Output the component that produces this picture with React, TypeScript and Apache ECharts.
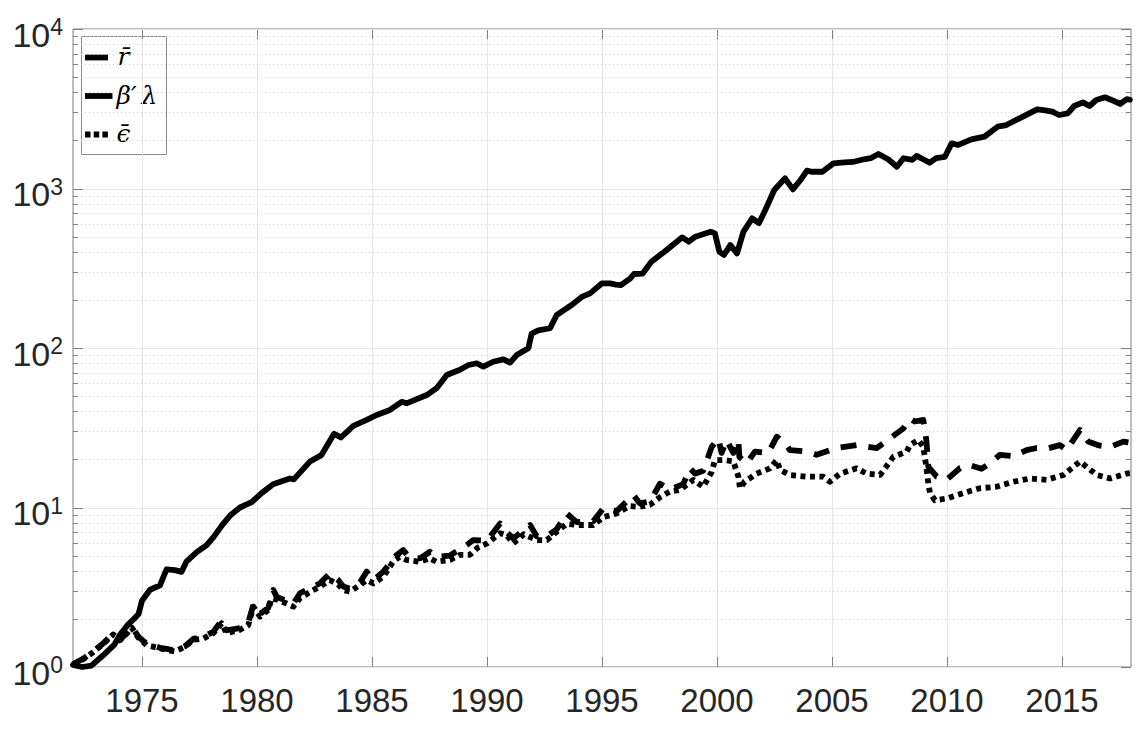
import React, { useEffect, useRef } from 'react';
import * as echarts from 'echarts';

const X_MIN = 1972;
const X_MAX = 2018;
const xTickYears = [1975, 1980, 1985, 1990, 1995, 2000, 2005, 2010, 2015];
const yMajorTicks = [1, 10, 100, 1000, 10000];
const yMinorTicks = [
  2, 3, 4, 5, 6, 7, 8, 9,
  20, 30, 40, 50, 60, 70, 80, 90,
  200, 300, 400, 500, 600, 700, 800, 900,
  2000, 3000, 4000, 5000, 6000, 7000, 8000, 9000,
];

// beta' lambda (solid)
const betaYears = [
  1972.0, 1972.4, 1972.8, 1973.3, 1973.8, 1974.05, 1974.4, 1974.65, 1974.85, 1975.0,
  1975.35, 1975.78, 1976.07, 1976.43, 1976.72, 1976.94, 1977.38, 1977.81, 1978.1, 1978.53,
  1978.83, 1979.26, 1979.77, 1980.2, 1980.7, 1981.43, 1981.6, 1982.3, 1982.8, 1983.35,
  1983.65, 1984.19, 1984.77, 1985.2, 1985.78, 1986.29, 1986.5, 1987.38, 1987.81, 1988.25,
  1988.8, 1989.2, 1989.55, 1989.84, 1990.27, 1990.71, 1991.0, 1991.29, 1991.8, 1991.94,
  1992.23, 1992.74, 1993.03, 1993.25, 1993.68, 1994.12, 1994.48, 1994.99, 1995.35, 1995.6,
  1995.82, 1996.22, 1996.39, 1996.77, 1997.15, 1997.72, 1998.49, 1998.77, 1999.06, 1999.72,
  1999.91, 2000.1, 2000.3, 2000.58, 2000.87, 2001.15, 2001.53, 2001.82, 2002.1, 2002.49,
  2002.96, 2003.3, 2003.63, 2003.91, 2004.1, 2004.58, 2005.06, 2005.53, 2005.91, 2006.39,
  2006.68, 2007.02, 2007.44, 2007.82, 2008.11, 2008.49, 2008.68, 2008.96, 2009.25, 2009.53,
  2009.91, 2010.2, 2010.49, 2011.06, 2011.63, 2012.2, 2012.58, 2013.15, 2013.92, 2014.2,
  2014.58, 2014.87, 2015.25, 2015.53, 2015.91, 2016.2, 2016.49, 2016.87, 2017.15, 2017.53,
  2017.82, 2017.95,
];
const betaValues = [
  1.03, 1.0, 1.02, 1.18, 1.38, 1.6, 1.85, 2.0, 2.15, 2.6,
  3.05, 3.25, 4.1, 4.05, 3.95, 4.6, 5.25, 5.8, 6.5, 7.9,
  8.9, 10.0, 10.8, 12.3, 14.0, 15.2, 15.0, 19.4, 21.3, 29,
  27.5, 32.5, 35.4, 38, 40.9, 46, 45, 50.7, 56, 67.7,
  72.8, 78.2, 80.2, 76.4, 82, 84.9, 81, 90.3, 99.8, 123,
  128.8, 133, 161, 169, 186, 209, 220, 254, 254, 250,
  248, 272, 291, 293, 348, 402, 494, 464, 499, 536,
  523, 402, 383, 442, 392, 536, 650, 606, 733, 979,
  1158, 988, 1130, 1294, 1274, 1274, 1438, 1458, 1467, 1525,
  1548, 1645, 1525, 1370, 1548, 1510, 1600, 1525, 1451, 1548,
  1580, 1919, 1875, 2034, 2114, 2440, 2500, 2754, 3135, 3100,
  3030, 2890, 2960, 3290, 3467, 3290, 3589, 3731, 3589, 3389,
  3631, 3600,
];

// r bar (dashed)
const rbarYears = [
  1972.0, 1972.45, 1972.88, 1973.32, 1973.75, 1974.04, 1974.33, 1974.55, 1974.84, 1975.2,
  1975.78, 1976.07, 1976.43, 1976.87, 1977.23, 1977.67, 1978.1, 1978.46, 1978.68, 1979.26,
  1979.62, 1979.84, 1980.13, 1980.49, 1980.71, 1980.86, 1981.29, 1981.58, 1981.87, 1982.3,
  1982.74, 1983.17, 1983.53, 1983.75, 1984.04, 1984.48, 1984.77, 1985.06, 1985.49, 1986.07,
  1986.36, 1986.6, 1987.09, 1987.52, 1987.81, 1988.39, 1989.12, 1989.4, 1990.0, 1990.57,
  1990.86, 1991.14, 1991.87, 1992.16, 1992.6, 1993.03, 1993.46, 1993.9, 1994.62, 1995.06,
  1995.64, 1996.36, 1996.65, 1997.09, 1997.52, 1997.96, 1998.53, 1998.83, 1999.04, 1999.4,
  1999.77, 2000.06, 2000.2, 2000.42, 2000.71, 2000.93, 2000.97, 2001.29, 2001.65, 2002.23,
  2002.6, 2002.96, 2003.17, 2003.9, 2004.33, 2005.2, 2006.07, 2006.94, 2007.52, 2008.1,
  2008.39, 2008.6, 2008.97, 2009.1, 2009.19, 2009.55, 2010.0, 2010.57, 2011.0, 2011.5,
  2011.87, 2012.3, 2012.9, 2013.46, 2013.9, 2014.4, 2014.91, 2015.2, 2015.78, 2016.14,
  2016.6, 2017.09, 2017.67, 2017.95,
];
const rbarValues = [
  1.04, 1.13, 1.25, 1.41, 1.63, 1.48, 1.63, 1.79, 1.55, 1.4,
  1.32, 1.3, 1.27, 1.35, 1.5, 1.55, 1.66, 1.95, 1.7, 1.75,
  1.9, 2.45, 2.15, 2.35, 3.04, 2.75, 2.6, 2.5, 2.9, 3.11,
  3.35, 3.87, 3.51, 3.2, 3.1, 3.4, 3.96, 3.5, 3.96, 5.04,
  5.41, 4.9, 4.8, 5.28, 4.9, 5.0, 5.82, 6.25, 6.2, 7.94,
  7.0, 6.4, 7.77, 6.6, 6.6, 7.3, 9.18, 8.1, 8.2, 9.9,
  9.5, 11.98, 10.6, 10.9, 14.1, 13.0, 14.0, 17.6, 16.3, 17,
  24.0, 27.1, 22.0, 26.5, 22.0, 26.5, 20.8, 18.9, 22.4, 22.0,
  27.8, 25.3, 22.9, 22.4, 21.4, 23.6, 24.6, 23.6, 27.1, 31.3,
  36.1, 34.6, 35.4, 26.5, 18, 15.6, 15.0, 17.7, 18.4, 17.5,
  18.9, 21.4, 21.0, 22.9, 23.6, 23.5, 24.6, 22.9, 30.6, 25.9,
  24.5, 24.0, 25.9, 25.5,
];

// epsilon bar (dotted)
const epsYears = [
  1972.0, 1972.45, 1972.88, 1973.32, 1973.75, 1974.04, 1974.33, 1974.55, 1974.84, 1975.2,
  1975.78, 1976.07, 1976.43, 1976.87, 1977.23, 1977.67, 1978.1, 1978.46, 1978.68, 1979.26,
  1979.62, 1979.84, 1980.13, 1980.49, 1980.64, 1980.86, 1981.29, 1981.58, 1981.87, 1982.3,
  1982.74, 1983.17, 1983.53, 1983.75, 1984.04, 1984.48, 1984.77, 1985.06, 1985.49, 1985.93,
  1986.2, 1986.5, 1987.09, 1987.5, 1987.81, 1988.39, 1988.83, 1989.25, 1989.6, 1990.0,
  1990.57, 1990.86, 1991.14, 1991.6, 1992.16, 1992.6, 1993.03, 1993.46, 1993.9, 1994.62,
  1995.06, 1995.64, 1996.2, 1996.65, 1997.09, 1997.52, 1997.96, 1998.39, 1998.97, 1999.4,
  1999.77, 1999.91, 2000.35, 2000.71, 2000.93, 2001.0, 2001.2, 2001.72, 2002.3, 2002.6,
  2002.74, 2003.17, 2003.9, 2004.62, 2004.91, 2005.35, 2006.07, 2006.51, 2007.09, 2007.67,
  2008.25, 2008.39, 2008.75, 2008.97, 2009.1, 2009.19, 2009.26, 2009.48, 2009.99, 2010.7,
  2011.43, 2012.16, 2012.88, 2013.61, 2014.33, 2015.06, 2015.78, 2016.51, 2017.09, 2017.8,
  2017.95,
];
const epsValues = [
  1.04, 1.12, 1.24, 1.4, 1.6, 1.47, 1.62, 1.77, 1.53, 1.37,
  1.31, 1.28, 1.25, 1.34, 1.48, 1.51, 1.63, 1.88, 1.63, 1.71,
  1.83, 2.39, 2.07, 2.28, 2.7, 2.65, 2.5, 2.39, 2.7, 2.95,
  3.2, 3.5, 3.3, 3.04, 2.97, 3.27, 3.5, 3.35, 3.68, 4.6,
  4.9, 4.69, 4.57, 4.8, 4.57, 4.69, 5.04, 5.04, 5.6, 5.96,
  6.9, 6.7, 5.96, 6.8, 6.25, 6.25, 7.05, 7.9, 7.77, 7.77,
  8.7, 9.18, 10.2, 10.1, 10.4, 11.6, 12.6, 12.9, 14.9, 13.5,
  16.7, 19.8, 19.8, 19.5, 15.6, 13.2, 14.5, 16.3, 17.6, 19.8,
  17.2, 16.0, 15.6, 15.6, 14.5, 16.3, 17.6, 16.3, 16.0, 20.8,
  22.4, 24.6, 26.5, 24.0, 18, 14.1, 12.3, 11.1, 11.4, 12.3,
  13.2, 13.5, 14.5, 15.2, 14.9, 16.0, 19.4, 16.0, 15.2, 16.3,
  16.4,
];

const legendLabels = ['r\u0304', '\u03B2\u2032\u2009\u03BB', '\u03F5\u0304'];

const FONT = '"Liberation Sans", Arial, Helvetica, sans-serif';
const LEGEND_FONT = 'italic 25px "DejaVu Serif", "Liberation Serif", serif';
const TEXT_COLOR = '#262626';
const AXIS_COLOR = '#7f7f7f';
const GRID_COLOR = '#e6e6e6';
const MINOR_GRID_COLOR = '#cfcfcf';
const LINE_W = 5.8;

const pairs = (xs: number[], ys: number[]) => xs.map((x, i) => [x, ys[i]]);
const crisp = (v: number) => Math.round(v) + 0.5;

export default function App() {
  const ref = useRef<HTMLDivElement>(null);

  useEffect(() => {
    document.body.style.margin = '0';
    if (!ref.current) return;
    const chart = echarts.init(ref.current, null, { renderer: 'svg' });

    const lineBase = {
      type: 'line',
      showSymbol: false,
      symbol: 'none',
      silent: true,
      z: 5,
      xAxisIndex: 0,
      yAxisIndex: 0,
    };

    chart.setOption({
      animation: false,
      backgroundColor: '#ffffff',
      grid: {
        left: 73,
        top: 29,
        width: 1058,
        height: 638,
        show: true,
        borderColor: AXIS_COLOR,
        borderWidth: 1,
        backgroundColor: 'transparent',
      },
      xAxis: {
        type: 'value',
        min: X_MIN,
        max: X_MAX,
        axisLine: { show: false },
        axisTick: { show: false },
        splitLine: { show: false },
        axisLabel: {
          customValues: xTickYears,
          fontSize: 33,
          lineHeight: 33,
          margin: 17,
          color: TEXT_COLOR,
          fontFamily: FONT,
          formatter: (v: number) => String(v),
        },
      },
      yAxis: {
        type: 'log',
        logBase: 10,
        min: 1,
        max: 10000,
        axisLine: { show: false },
        axisTick: { show: false },
        splitLine: { show: false },
        minorSplitLine: { show: false },
        axisLabel: {
          margin: 10,
          padding: [9, 0, 0, 0],
          formatter: (v: number) => `{b|10}{e|${Math.round(Math.log10(v))}}`,
          rich: {
            b: {
              fontSize: 34,
              fontFamily: FONT,
              color: TEXT_COLOR,
              lineHeight: 36,
              padding: [9, 0, 0, 0],
              verticalAlign: 'bottom',
            },
            e: {
              fontSize: 23,
              fontFamily: FONT,
              color: TEXT_COLOR,
              lineHeight: 22,
              verticalAlign: 'top',
            },
          },
        },
      },
      graphic: [
        {
          type: 'group',
          x: 81.5,
          y: 36.5,
          z: 100,
          children: [
            {
              type: 'rect',
              shape: { x: 0, y: 0, width: 85, height: 118 },
              style: { fill: '#ffffff', stroke: '#8c8c8c', lineWidth: 1 },
            },
            {
              type: 'line',
              shape: { x1: 3.5, y1: 21, x2: 26.5, y2: 21 },
              style: { stroke: '#000', lineWidth: LINE_W },
            },
            {
              type: 'line',
              shape: { x1: 3.5, y1: 59.5, x2: 31, y2: 59.5 },
              style: { stroke: '#000', lineWidth: LINE_W },
            },
            {
              type: 'line',
              shape: { x1: 3.5, y1: 98, x2: 26.5, y2: 98 },
              style: { stroke: '#000', lineWidth: LINE_W, lineDash: [5.5, 3.2], lineCap: 'butt' },
            },
            {
              type: 'text',
              x: 36,
              y: 20,
              style: { text: legendLabels[0], font: LEGEND_FONT, fill: '#000', verticalAlign: 'middle' },
            },
            {
              type: 'text',
              x: 35,
              y: 59,
              style: { text: legendLabels[1], font: LEGEND_FONT, fill: '#000', verticalAlign: 'middle' },
            },
            {
              type: 'text',
              x: 35,
              y: 97,
              style: { text: legendLabels[2], font: LEGEND_FONT, fill: '#000', verticalAlign: 'middle' },
            },
          ],
        },
      ],
      series: [
        {
          name: 'xgrid',
          type: 'custom',
          silent: true,
          z: 1,
          clip: false,
          encode: { x: 0, y: 1 },
          data: xTickYears.map((x) => [x, 1]),
          renderItem: (params: any, api: any) => {
            const cs = params.coordSys;
            const x = crisp(api.coord([api.value(0), api.value(1)])[0]);
            const top = cs.y;
            const bottom = cs.y + cs.height;
            return {
              type: 'group',
              children: [
                { type: 'line', shape: { x1: x, y1: top, x2: x, y2: bottom }, style: { stroke: GRID_COLOR, lineWidth: 1 } },
                { type: 'line', shape: { x1: x, y1: bottom - 10, x2: x, y2: bottom }, style: { stroke: AXIS_COLOR, lineWidth: 1 } },
                { type: 'line', shape: { x1: x, y1: top, x2: x, y2: top + 10 }, style: { stroke: AXIS_COLOR, lineWidth: 1 } },
              ],
            };
          },
        },
        {
          name: 'ymajor',
          type: 'custom',
          silent: true,
          z: 1,
          clip: false,
          encode: { x: 0, y: 1 },
          data: yMajorTicks.map((v) => [X_MIN, v]),
          renderItem: (params: any, api: any) => {
            const cs = params.coordSys;
            const y = crisp(api.coord([api.value(0), api.value(1)])[1]);
            const l = cs.x;
            const r = cs.x + cs.width;
            return {
              type: 'group',
              children: [
                { type: 'line', shape: { x1: l, y1: y, x2: r, y2: y }, style: { stroke: GRID_COLOR, lineWidth: 1 } },
                { type: 'line', shape: { x1: l, y1: y, x2: l + 10, y2: y }, style: { stroke: AXIS_COLOR, lineWidth: 1 } },
                { type: 'line', shape: { x1: r - 10, y1: y, x2: r, y2: y }, style: { stroke: AXIS_COLOR, lineWidth: 1 } },
              ],
            };
          },
        },
        {
          name: 'yminor',
          type: 'custom',
          silent: true,
          z: 1,
          clip: false,
          encode: { x: 0, y: 1 },
          data: yMinorTicks.map((v) => [X_MIN, v]),
          renderItem: (params: any, api: any) => {
            const cs = params.coordSys;
            const y = crisp(api.coord([api.value(0), api.value(1)])[1]);
            const l = cs.x;
            const r = cs.x + cs.width;
            return {
              type: 'group',
              children: [
                { type: 'line', shape: { x1: l, y1: y, x2: r, y2: y }, style: { stroke: MINOR_GRID_COLOR, lineWidth: 1, lineDash: [1, 3] } },
                { type: 'line', shape: { x1: l, y1: y, x2: l + 5, y2: y }, style: { stroke: AXIS_COLOR, lineWidth: 1 } },
                { type: 'line', shape: { x1: r - 5, y1: y, x2: r, y2: y }, style: { stroke: AXIS_COLOR, lineWidth: 1 } },
              ],
            };
          },
        },
        {
          ...lineBase,
          name: legendLabels[0],
          data: pairs(rbarYears, rbarValues),
          lineStyle: { color: '#000', width: LINE_W, type: [16, 12], cap: 'butt', join: 'round' },
        },
        {
          ...lineBase,
          name: legendLabels[1],
          data: pairs(betaYears, betaValues),
          lineStyle: { color: '#000', width: LINE_W, type: 'solid', join: 'round', cap: 'round' },
        },
        {
          ...lineBase,
          name: legendLabels[2],
          data: pairs(epsYears, epsValues),
          lineStyle: { color: '#000', width: LINE_W, type: [5, 4.5], cap: 'butt', join: 'round' },
        },
      ],
    });

    return () => chart.dispose();
  }, []);

  return (
    <div
      ref={ref}
      style={{ position: 'fixed', left: 0, top: 0, width: 1137, height: 729, background: '#fff' }}
    />
  );
}
